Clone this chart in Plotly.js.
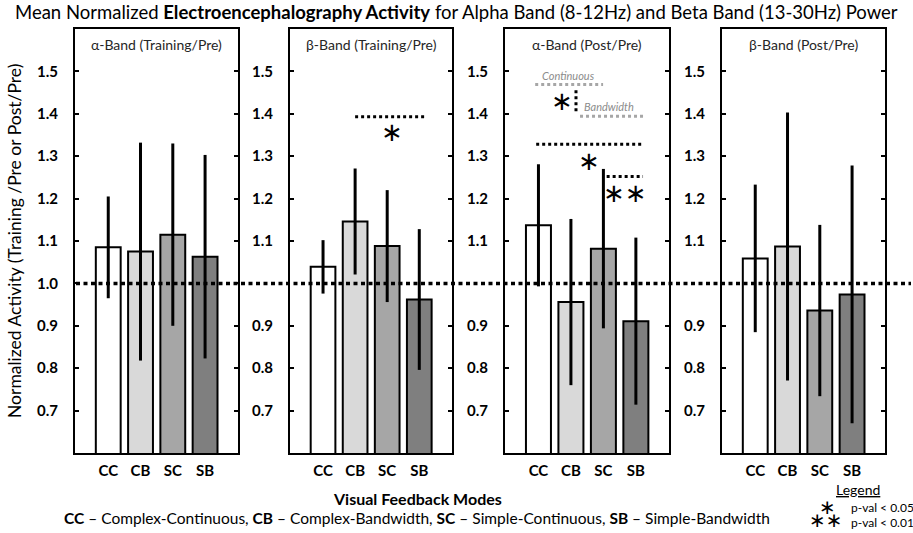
<!DOCTYPE html>
<html>
<head>
<meta charset="utf-8">
<script src="https://cdn.plot.ly/plotly-3.0.1.min.js"></script>
<style>html,body{margin:0;padding:0;background:#fff;}#chart{width:913px;height:533px;}</style>
</head>
<body>
<div id="chart"></div>
<script>
const categories = ['CC', 'CB', 'SC', 'SB'];
const panelTitles = ['α-Band (Training/Pre)', 'β-Band (Training/Pre)', 'α-Band (Post/Pre)', 'β-Band (Post/Pre)'];
const alphaTrainMean = [1.085, 1.075, 1.115, 1.063];
const alphaTrainErr = [0.120, 0.257, 0.215, 0.240];
const betaTrainMean = [1.039, 1.146, 1.088, 0.962];
const betaTrainErr = [0.063, 0.125, 0.132, 0.166];
const alphaPostMean = [1.137, 0.956, 1.082, 0.911];
const alphaPostErr = [0.144, 0.196, 0.188, 0.197];
const betaPostMean = [1.059, 1.087, 0.936, 0.974];
const betaPostErr = [0.174, 0.316, 0.202, 0.304];
const yTickVals = [0.7, 0.8, 0.9, 1.0, 1.1, 1.2, 1.3, 1.4, 1.5];
const yTickText = ['0.7', '0.8', '0.9', '1.0', '1.1', '1.2', '1.3', '1.4', '1.5'];
const barColors = ['#ffffff', '#d9d9d9', '#a6a6a6', '#7f7f7f'];

const means = [alphaTrainMean, betaTrainMean, alphaPostMean, betaPostMean];
const errs = [alphaTrainErr, betaTrainErr, alphaPostErr, betaPostErr];

const W = 913, H = 533;
const px = v => v / W;
const py = v => 1 - v / H;
const domains = [[75, 238], [290, 452], [505, 669], [722, 885]];
const FONT = 'Lato, "Open Sans", sans-serif';

const data = [];
const layout = {
  width: W, height: H,
  margin: {l: 0, r: 0, t: 0, b: 0},
  paper_bgcolor: '#fff', plot_bgcolor: '#fff',
  showlegend: false,
  font: {family: FONT, color: '#000'},
  shapes: [], annotations: []
};

for (let i = 0; i < 4; i++) {
  const s = i === 0 ? '' : String(i + 1);
  data.push({
    type: 'bar',
    x: [0, 1, 2, 3],
    y: means[i],
    xaxis: 'x' + s, yaxis: 'y' + s,
    width: 0.77,
    marker: {color: barColors, line: {color: '#000', width: 2}},
    error_y: {type: 'data', array: errs[i], visible: true, thickness: 3, width: 0, color: '#000'},
    hoverinfo: 'y'
  });
  const tv = i === 0 ? yTickVals : yTickVals.filter(v => v !== 1.0);
  const tt = i === 0 ? yTickText : yTickText.filter(t => t !== '1.0');
  layout['xaxis' + s] = {
    domain: [px(domains[i][0]), px(domains[i][1])],
    anchor: 'y' + s,
    range: [-1.03, 4.02],
    tickvals: [0, 1, 2, 3], ticktext: categories,
    ticks: '', showgrid: false, zeroline: false,
    showline: true, mirror: true, linecolor: '#000', linewidth: 2,
    tickfont: {family: FONT, size: 15, color: '#000', weight: 'bold'},
    ticklabelstandoff: 3
  };
  layout['yaxis' + s] = {
    domain: [py(453), py(29)],
    anchor: 'x' + s,
    range: [0.6, 1.6],
    tickvals: tv, ticktext: tt,
    ticks: 'inside', ticklen: 4, tickwidth: 2, tickcolor: '#000',
    showgrid: false, zeroline: false,
    showline: true, mirror: 'ticks', linecolor: '#000', linewidth: 2,
    tickfont: {family: FONT, size: 15, color: '#000', weight: 'bold'},
    ticklabelstandoff: 12
  };
  layout.annotations.push({
    xref: 'paper', yref: 'paper',
    x: px((domains[i][0] + domains[i][1]) / 2), y: py(44),
    text: panelTitles[i], showarrow: false,
    font: {family: FONT, size: 14, color: '#262626'},
    xanchor: 'center', yanchor: 'middle'
  });
}

// baseline at 1.0 across all panels
layout.shapes.push({type: 'line', xref: 'paper', yref: 'y', x0: px(76), x1: px(911), y0: 1.0, y1: 1.0,
  line: {color: '#000', width: 3.5, dash: '4px,3.5px'}, layer: 'above'});

// significance markers
const dotBlack = {color: '#000', width: 3, dash: '3px,3px'};
const dotGray = {color: '#a6a6a6', width: 3, dash: '3px,3px'};
layout.shapes.push({type: 'line', xref: 'x2', yref: 'y2', x0: 1.0, x1: 3.18, y0: 1.393, y1: 1.393, line: dotBlack});
layout.shapes.push({type: 'line', xref: 'x3', yref: 'y3', x0: -0.10, x1: 1.99, y0: 1.469, y1: 1.469, line: dotGray});
layout.shapes.push({type: 'line', xref: 'x3', yref: 'y3', x0: 1.28, x1: 3.22, y0: 1.394, y1: 1.394, line: dotGray});
layout.shapes.push({type: 'line', xref: 'x3', yref: 'y3', x0: 1.156, x1: 1.156, y0: 1.406, y1: 1.458, line: dotBlack});
layout.shapes.push({type: 'line', xref: 'x3', yref: 'y3', x0: -0.07, x1: 3.25, y0: 1.328, y1: 1.328, line: dotBlack});
layout.shapes.push({type: 'line', xref: 'x3', yref: 'y3', x0: 2.10, x1: 3.22, y0: 1.252, y1: 1.252, line: dotBlack});

const star = (xref, yref, x, y, t, size) => ({
  xref, yref, x, y, text: t, showarrow: false,
  font: {family: '"DejaVu Sans", sans-serif', size: size || 26, color: '#000'},
  xanchor: 'center', yanchor: 'middle'
});
layout.annotations.push(star('x2', 'y2', 2.15, 1.356, '∗'));
layout.annotations.push(star('x3', 'y3', 0.73, 1.43, '∗'));
layout.annotations.push(star('x3', 'y3', 1.56, 1.288, '∗'));
layout.annotations.push(star('x3', 'y3', 2.66, 1.213, '∗∗'));
layout.annotations.push({xref: 'x3', yref: 'y3', x: 0.91, y: 1.49, text: '<i>Continuous</i>', showarrow: false,
  font: {family: FONT, size: 11, color: '#8c8c8c'}, xanchor: 'center', yanchor: 'middle'});
layout.annotations.push({xref: 'x3', yref: 'y3', x: 2.17, y: 1.418, text: '<i>Bandwidth</i>', showarrow: false,
  font: {family: FONT, size: 11, color: '#8c8c8c'}, xanchor: 'center', yanchor: 'middle'});

// titles and footnotes
layout.annotations.push({xref: 'paper', yref: 'paper', x: px(456), y: py(12),
  text: 'Mean Normalized <b>Electroencephalography Activity</b> for Alpha Band (8-12Hz) and Beta Band (13-30Hz) Power',
  showarrow: false, font: {family: FONT, size: 18.5, color: '#000'}, xanchor: 'center', yanchor: 'middle'});
layout.annotations.push({xref: 'paper', yref: 'paper', x: px(14), y: py(241),
  text: 'Normalized Activity (Training /Pre or Post/Pre)', textangle: -90,
  showarrow: false, font: {family: FONT, size: 17.5, color: '#000'}, xanchor: 'center', yanchor: 'middle'});
layout.annotations.push({xref: 'paper', yref: 'paper', x: px(417), y: py(498),
  text: '<b>Visual Feedback Modes</b>', showarrow: false,
  font: {family: FONT, size: 16, color: '#000'}, xanchor: 'center', yanchor: 'middle'});
layout.annotations.push({xref: 'paper', yref: 'paper', x: px(417), y: py(518),
  text: '<b>CC</b> – Complex-Continuous, <b>CB</b> – Complex-Bandwidth, <b>SC</b> – Simple-Continuous, <b>SB</b> – Simple-Bandwidth',
  showarrow: false, font: {family: FONT, size: 15.5, color: '#000'}, xanchor: 'center', yanchor: 'middle'});
layout.annotations.push({xref: 'paper', yref: 'paper', x: px(858), y: py(490),
  text: '<u>Legend</u>', showarrow: false,
  font: {family: FONT, size: 14, color: '#000'}, xanchor: 'center', yanchor: 'middle'});
layout.annotations.push(star('paper', 'paper', px(827), py(507), '∗', 20));
layout.annotations.push(star('paper', 'paper', px(826), py(520), '∗∗', 20));
layout.annotations.push({xref: 'paper', yref: 'paper', x: px(849), y: py(507),
  text: 'p-val &lt; 0.05', showarrow: false,
  font: {family: FONT, size: 12, color: '#000'}, xanchor: 'left', yanchor: 'middle'});
layout.annotations.push({xref: 'paper', yref: 'paper', x: px(849), y: py(522),
  text: 'p-val &lt; 0.01', showarrow: false,
  font: {family: FONT, size: 12, color: '#000'}, xanchor: 'left', yanchor: 'middle'});

Plotly.newPlot('chart', data, layout, {displayModeBar: false, staticPlot: true});
</script>
</body>
</html>
